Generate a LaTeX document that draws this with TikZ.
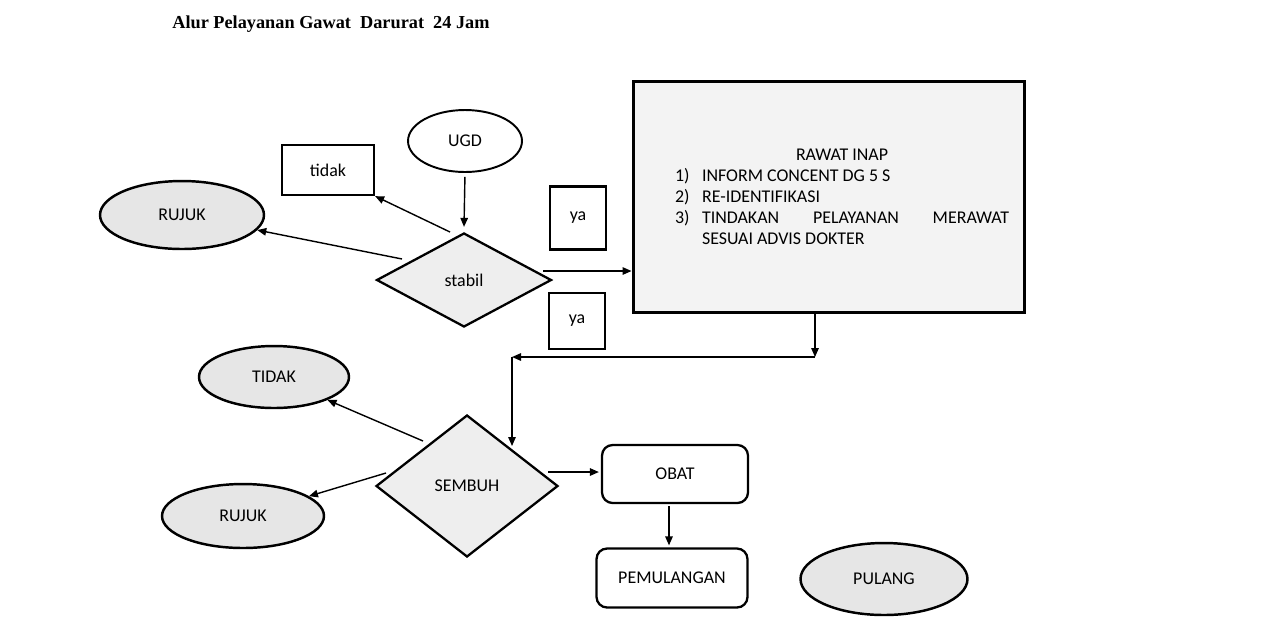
\documentclass[tikz,border=0pt]{standalone}
\usepackage{fontspec}
\setmainfont{Carlito}
\newfontfamily\titlefont{Liberation Serif}
\usetikzlibrary{positioning, arrows.meta, shapes.geometric, calc}
\definecolor{shadegray}{HTML}{E6E6E6}
\definecolor{palegray}{HTML}{EEEEEE}
\tikzset{
  plain/.style={draw, inner sep=0pt, font=\fontsize{10.2}{11.9}\selectfont},
  oval/.style={plain, ellipse, line width=1.4pt, fill=shadegray},
  entry/.style={plain, ellipse, line width=1.1pt, fill=white},
  decide/.style={plain, diamond, line width=1.3pt, fill=palegray},
  answer/.style={plain, rectangle, line width=1.3pt, fill=white},
  stepbox/.style={plain, rectangle, rounded corners=6pt, line width=1.3pt, fill=white},
  bigbox/.style={plain, rectangle, line width=1.7pt, fill=palegray!70},
  arr/.style={-{Triangle[length=1.8mm, width=1.5mm]}, line width=0.8pt}
}

\begin{document}
\begin{tikzpicture}[x=0.02cm, y=-0.02cm]
\fill[white] (0,0) rectangle (1280,627);
\useasboundingbox (0,0) rectangle (1280,627);
\node[anchor=base west, inner sep=0pt, font=\titlefont\bfseries\fontsize{10.4}{12}\selectfont] (title) at (172,28) {Alur Pelayanan Gawat\ \ Darurat\ \ 24 Jam};
% upper part
\node[entry, minimum width=2.28cm, minimum height=1.24cm] (ugd) at (465,141) {UGD};
\node[answer, minimum width=1.84cm, minimum height=1cm] (tidak1) at (328,170) {tidak};
\node[oval, minimum width=3.28cm, minimum height=1.36cm] (rujuk1) at (182,215) {RUJUK};
\node[decide, minimum width=3.5cm, minimum height=1.88cm] (stabil) at (464,280) {stabil};
\node[answer, minimum width=1.12cm, minimum height=1.26cm] (ya1) at (578,218) {ya};
\node[answer, minimum width=1.12cm, minimum height=1.12cm] (ya2) at (577,321) {ya};
\node[bigbox, minimum width=7.84cm, minimum height=4.64cm] (inap) at (829,197) {\hspace*{0.52cm}\parbox{6.68cm}{\centering RAWAT INAP\par\raggedright
\makebox[0.54cm][l]{1)}INFORM CONCENT DG 5 S\\
\makebox[0.54cm][l]{2)}RE-IDENTIFIKASI\\
\makebox[6.68cm][l]{\makebox[0.54cm][l]{3)}TINDAKAN\hfill PELAYANAN\hfill MERAWAT}\\
\hspace*{0.54cm}SESUAI ADVIS DOKTER}};
% lower part
\node[oval, minimum width=3cm, minimum height=1.24cm] (tidak2) at (274,377) {TIDAK};
\node[decide, minimum width=3.64cm, minimum height=2.84cm] (sembuh) at (467,486) {SEMBUH};
\node[oval, minimum width=3.24cm, minimum height=1.28cm] (rujuk2) at (243,516) {RUJUK};
\node[stepbox, minimum width=2.92cm, minimum height=1.16cm] (obat) at (675,474) {OBAT};
\node[stepbox, minimum width=3.02cm, minimum height=1.18cm] (pemulangan) at (672,578) {PEMULANGAN};
\node[oval, minimum width=3.34cm, minimum height=1.44cm] (pulang) at (884,579) {PULANG};
\coordinate (sout) at ($(stabil.center)+(79,-9)$);
\coordinate (mout) at ($(sembuh.center)+(81,-14)$);
\coordinate (dn) at ($(obat.south)+(-6,2)$);
\coordinate (jr) at (815,357);
\coordinate (jl) at (512,357);
\draw[arr, shorten <=0.08cm] (ugd.south) -- ($(stabil.north)+(0,-5)$);
\draw[arr] ($(stabil.center)+(-14,-48)$) -- (tidak1.south east);
\draw[arr] ($(stabil.center)+(-62,-21)$) -- (rujuk1);
\draw[arr] (sout) -- (sout -| inap.west);
\draw[arr] (inap.south -| jr) -- (jr);
\draw[arr] (jr) -- (jl);
\draw[arr] (jl) -- ($(sembuh.center)+(45,-40)$);
\draw[arr] ($(sembuh.center)+(-44,-45)$) -- (tidak2);
\draw[arr] ($(sembuh.center)+(-81,-13)$) -- (rujuk2);
\draw[arr, shorten >=0.04cm] (mout) -- (mout -| obat.west);
\draw[arr, shorten >=0.04cm] (dn) -- (dn |- pemulangan.north);
\end{tikzpicture}
\end{document}
